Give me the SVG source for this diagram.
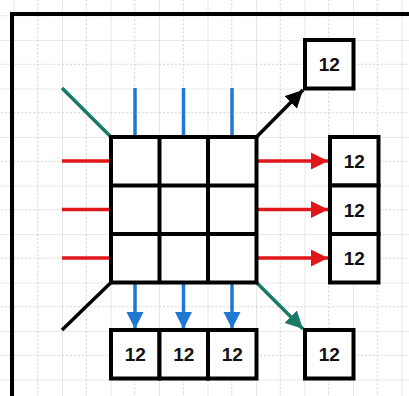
<svg xmlns="http://www.w3.org/2000/svg" width="409" height="396" viewBox="0 0 409 396">
<defs>
<pattern id="grid" patternUnits="userSpaceOnUse" x="13.5" y="40" width="48.5" height="48.5">
<path d="M0,0 V48.5 M0,0 H48.5" fill="none" stroke="#d6d6d6" stroke-width="1.2"/>
<path d="M24.25,0 V48.5 M0,24.25 H48.5" fill="none" stroke="#cfcfcf" stroke-width="1" stroke-dasharray="2,2"/>
</pattern>
<marker id="aRed" viewBox="0 0 10 10" refX="10" refY="5" markerWidth="5" markerHeight="5" orient="auto" markerUnits="strokeWidth">
<path d="M0,0 L10,5 L0,10 Z" fill="#e0161b"/>
</marker>
<marker id="aBlue" viewBox="0 0 10 10" refX="10" refY="5" markerWidth="5" markerHeight="5" orient="auto" markerUnits="strokeWidth">
<path d="M0,0 L10,5 L0,10 Z" fill="#1f78d1"/>
</marker>
<marker id="aTeal" viewBox="0 0 10 10" refX="10" refY="5" markerWidth="5" markerHeight="5" orient="auto" markerUnits="strokeWidth">
<path d="M0,0 L10,5 L0,10 Z" fill="#1a7a68"/>
</marker>
<marker id="aBlack" viewBox="0 0 10 10" refX="10" refY="5" markerWidth="5" markerHeight="5" orient="auto" markerUnits="strokeWidth">
<path d="M0,0 L10,5 L0,10 Z" fill="#000"/>
</marker>
</defs>
<style>
.box{fill:#fff;stroke:#000;stroke-width:4}
.lbl{font-family:"Liberation Sans",Arial,sans-serif;font-size:19px;font-weight:bold;fill:#111;text-anchor:middle;dominant-baseline:central}
.red{stroke:#e0161b;stroke-width:3.5;fill:none}
.blue{stroke:#1f78d1;stroke-width:3.5;fill:none}
.teal{stroke:#1a7a68;stroke-width:3.5;fill:none}
.blk{stroke:#000;stroke-width:3.5;fill:none}
</style>
<rect width="409" height="396" fill="#fff"/>
<rect width="409" height="396" fill="url(#grid)"/>
<path d="M12,396 V14 H409" fill="none" stroke="#000" stroke-width="4"/>

<g id="connectors">
<line class="teal" x1="62" y1="88" x2="111" y2="137"/>
<line class="blue" x1="135" y1="88" x2="135" y2="137"/>
<line class="blue" x1="183.5" y1="88" x2="183.5" y2="137"/>
<line class="blue" x1="232" y1="88" x2="232" y2="137"/>
<line class="blk" x1="256.5" y1="137" x2="303" y2="90" marker-end="url(#aBlack)"/>
<line class="red" x1="62" y1="161" x2="111" y2="161"/>
<line class="red" x1="62" y1="209.5" x2="111" y2="209.5"/>
<line class="red" x1="62" y1="258" x2="111" y2="258"/>
<line class="red" x1="256.5" y1="161" x2="328" y2="161" marker-end="url(#aRed)"/>
<line class="red" x1="256.5" y1="209.5" x2="328" y2="209.5" marker-end="url(#aRed)"/>
<line class="red" x1="256.5" y1="258" x2="328" y2="258" marker-end="url(#aRed)"/>
<line class="blk" x1="111" y1="282.5" x2="62" y2="330"/>
<line class="blue" x1="135" y1="282.5" x2="135" y2="329" marker-end="url(#aBlue)"/>
<line class="blue" x1="183.5" y1="282.5" x2="183.5" y2="329" marker-end="url(#aBlue)"/>
<line class="blue" x1="232" y1="282.5" x2="232" y2="329" marker-end="url(#aBlue)"/>
<line class="teal" x1="256.5" y1="282.5" x2="303" y2="329" marker-end="url(#aTeal)"/>
</g>

<g id="matrix">
<rect class="box" x="111" y="137" width="145.5" height="145.5"/>
<path d="M159.5,137 V282.5 M208,137 V282.5 M111,185.5 H256.5 M111,234 H256.5" stroke="#000" stroke-width="4" fill="none"/>
</g>

<g id="box-top-right">
<rect class="box" x="305" y="40" width="48.5" height="48.5"/>
<text class="lbl" x="329.25" y="64.5">12</text>
</g>
<g id="box-right-1">
<rect class="box" x="330" y="137" width="48.5" height="48.5"/>
<text class="lbl" x="354.25" y="161.5">12</text>
</g>
<g id="box-right-2">
<rect class="box" x="330" y="185.5" width="48.5" height="48.5"/>
<text class="lbl" x="354.25" y="210">12</text>
</g>
<g id="box-right-3">
<rect class="box" x="330" y="234" width="48.5" height="48.5"/>
<text class="lbl" x="354.25" y="258.5">12</text>
</g>
<g id="box-bottom-1">
<rect class="box" x="111" y="330" width="48.5" height="48.5"/>
<text class="lbl" x="135.25" y="354.5">12</text>
</g>
<g id="box-bottom-2">
<rect class="box" x="159.5" y="330" width="48.5" height="48.5"/>
<text class="lbl" x="183.75" y="354.5">12</text>
</g>
<g id="box-bottom-3">
<rect class="box" x="208" y="330" width="48.5" height="48.5"/>
<text class="lbl" x="232.25" y="354.5">12</text>
</g>
<g id="box-bottom-right">
<rect class="box" x="305" y="330" width="48.5" height="48.5"/>
<text class="lbl" x="329.25" y="354.5">12</text>
</g>
</svg>
